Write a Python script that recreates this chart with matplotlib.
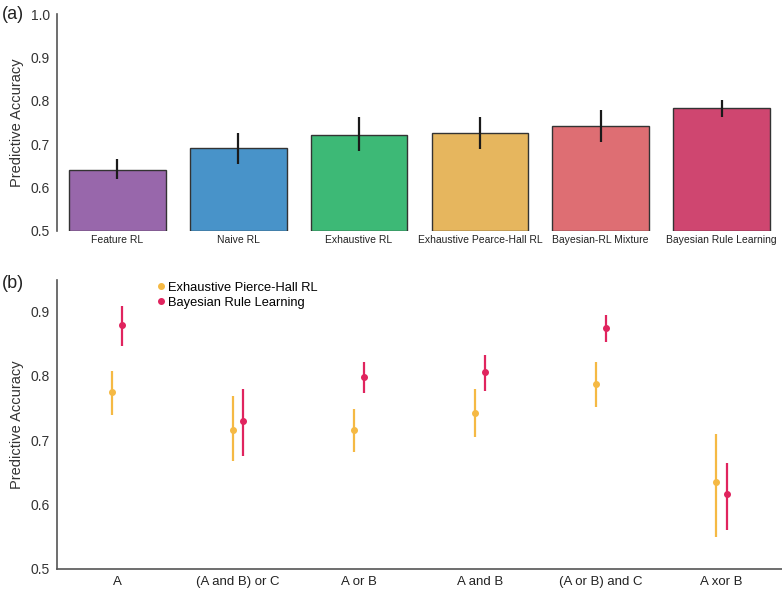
import numpy as np
from matplotlib import pyplot as plt
from matplotlib.lines import Line2D

plt.rcParams['font.family'] = ['Liberation Sans', 'DejaVu Sans']

# panel (a) data
models = ['Feature RL', 'Naive RL', 'Exhaustive RL', 'Exhaustive Pearce-Hall RL',
          'Bayesian-RL Mixture', 'Bayesian Rule Learning']
model_acc = [0.641, 0.692, 0.722, 0.727, 0.743, 0.783]
model_lo = [0.619, 0.654, 0.685, 0.690, 0.706, 0.763]
model_hi = [0.666, 0.726, 0.763, 0.764, 0.778, 0.803]
bar_colors = ['#9867ab', '#4893c9', '#3db976', '#e6b65e', '#de6e73', '#cf4670']

# panel (b) data
rules = ['A', '(A and B) or C', 'A or B', 'A and B', '(A or B) and C', 'A xor B']
ph_acc = [0.775, 0.716, 0.716, 0.742, 0.787, 0.635]
ph_lo = [0.740, 0.668, 0.682, 0.705, 0.751, 0.550]
ph_hi = [0.808, 0.769, 0.749, 0.779, 0.822, 0.710]
brl_acc = [0.879, 0.730, 0.799, 0.806, 0.874, 0.616]
brl_lo = [0.846, 0.675, 0.773, 0.776, 0.852, 0.561]
brl_hi = [0.909, 0.780, 0.822, 0.833, 0.895, 0.664]
series_names = ['Exhaustive Pierce-Hall RL', 'Bayesian Rule Learning']
series_colors = ['#f5b944', '#e0245e']

spine_col = '#555555'

fig = plt.figure(figsize=(7.82, 5.9), dpi=100)

##############
# PANEL (a) #
##############
ax1 = fig.add_axes([0.0729, 0.6085, 0.927, 0.3675])
x = np.arange(len(models))
acc = np.array(model_acc)
yerr = [acc - np.array(model_lo), np.array(model_hi) - acc]
ax1.bar(x, acc - 0.5, bottom=0.5, width=0.8, color=bar_colors,
        edgecolor='#333333', linewidth=1.0, zorder=2)
ax1.errorbar(x, acc, yerr=yerr, fmt='none', ecolor='#1a1a1a', elinewidth=1.6,
             capsize=0, zorder=3)
ax1.set_ylim(0.5, 1.0)
ax1.set_xlim(-0.5, 5.5)
ax1.set_yticks([0.5, 0.6, 0.7, 0.8, 0.9, 1.0])
ax1.set_yticklabels(['0.5', '0.6', '0.7', '0.8', '0.9', '1.0'])
ax1.set_xticks(x)
ax1.set_xticklabels(models, fontsize=7.5, color='#222222')
ax1.tick_params(axis='y', labelsize=10, length=0, pad=5, colors='#333333')
ax1.tick_params(axis='x', length=0, pad=3)
for s in ['top', 'right', 'bottom']:
    ax1.spines[s].set_visible(False)
ax1.spines['left'].set_color(spine_col)
ax1.spines['left'].set_linewidth(1.2)
ax1.set_ylabel('Predictive Accuracy', fontsize=10.5, color='#333333', labelpad=5)
fig.text(0.003, 0.976, '(a)', fontsize=13, va='center', ha='left', color='#222222')

##############
# PANEL (b) #
##############
ax2 = fig.add_axes([0.0729, 0.0356, 0.927, 0.4898])
xb = np.arange(len(rules))
ph = np.array(ph_acc)
brl = np.array(brl_acc)
off = 0.042
ax2.errorbar(xb - off, ph, yerr=[ph - np.array(ph_lo), np.array(ph_hi) - ph],
             fmt='o', color=series_colors[0], ecolor=series_colors[0], elinewidth=1.6,
             markersize=4, capsize=0)
ax2.errorbar(xb + off, brl, yerr=[brl - np.array(brl_lo), np.array(brl_hi) - brl],
             fmt='o', color=series_colors[1], ecolor=series_colors[1], elinewidth=1.6,
             markersize=4, capsize=0)
ax2.set_ylim(0.5, 0.949)
ax2.set_xlim(-0.5, 5.5)
ax2.set_yticks([0.5, 0.6, 0.7, 0.8, 0.9])
ax2.set_yticklabels(['0.5', '0.6', '0.7', '0.8', '0.9'])
ax2.set_xticks(xb)
ax2.set_xticklabels(rules, fontsize=9.5, color='#222222')
ax2.tick_params(axis='y', labelsize=10, length=0, pad=5, colors='#333333')
ax2.tick_params(axis='x', length=0, pad=5)
for s in ['top', 'right']:
    ax2.spines[s].set_visible(False)
for s in ['left', 'bottom']:
    ax2.spines[s].set_color(spine_col)
    ax2.spines[s].set_linewidth(1.2)
ax2.set_ylabel('Predictive Accuracy', fontsize=10.5, color='#333333', labelpad=5)
handles = [Line2D([], [], linestyle='none', marker='o', markersize=4, color=c)
           for c in series_colors]
ax2.legend(handles, series_names, loc='upper left', bbox_to_anchor=(0.118, 1.035),
           frameon=False, fontsize=9.3, handletextpad=0.1, labelspacing=0.25,
           handlelength=1.0)
fig.text(0.003, 0.52, '(b)', fontsize=13, va='center', ha='left', color='#222222')

plt.savefig('out.png', dpi=100)
